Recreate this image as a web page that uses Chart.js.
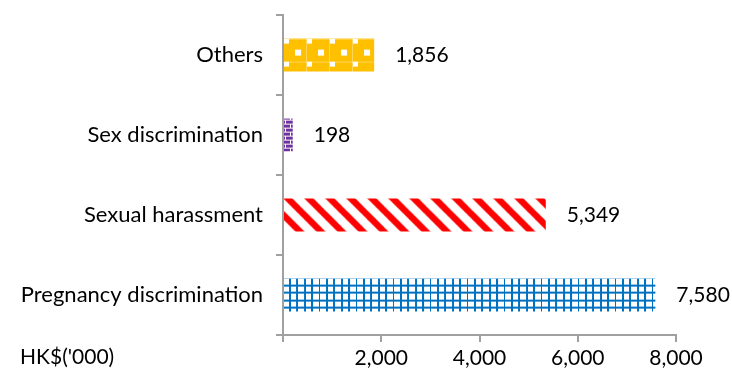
<!DOCTYPE html>
<html>
<head>
<meta charset="utf-8">
<script src="https://cdn.jsdelivr.net/npm/chart.js@4.4.1/dist/chart.umd.min.js"></script>
<style>
  html, body { margin: 0; padding: 0; background: #fff; }
  #wrap { width: 732px; height: 376px; }
</style>
</head>
<body>
<div id="wrap"><canvas id="chart" width="732" height="376"></canvas></div>
<script>
const categories = ['Others', 'Sex discrimination', 'Sexual harassment', 'Pregnancy discrimination'];
const amounts = [1856, 198, 5349, 7580];
const xTicks = [0, 2000, 4000, 6000, 8000];
const unitLabel = "HK$('000)";

const FONT = 'Lato, "Liberation Sans", sans-serif';
const TEXT_SIZE = 22;
const NUM_SIZE = 21;
const AXIS_GREY = '#a0a0a0';
const BAR_PCT = 0.41;

// pattern tiles, one per bar (Excel-style fills)
function tileGold() {
    const t = document.createElement('canvas');
    t.width = 23; t.height = 23;
    const g = t.getContext('2d');
    g.fillStyle = '#ffc000';
    g.fillRect(0, 0, 23, 23);
    g.fillStyle = 'rgba(255,255,255,0.35)';
    g.fillRect(0, 0, 23, 1);
    g.fillRect(0, 0, 1, 23);
    g.fillStyle = '#fff';
    g.fillRect(1, 0, 5, 5);
    g.fillRect(12, 11, 6, 6);
    return t;
}

function tilePurple() {
    const t = document.createElement('canvas');
    t.width = 10; t.height = 8;
    const g = t.getContext('2d');
    g.fillStyle = '#7030a0';
    g.fillRect(0, 0, 10, 8);
    g.fillStyle = '#fff';
    g.fillRect(0, 1, 10, 1);
    g.fillRect(0, 5, 10, 1);
    g.fillRect(2, 1, 1, 4);
    g.fillRect(7, 5, 1, 4);
    g.fillRect(7, 0, 1, 1);
    return t;
}

function tileRed() {
    const s = 21;
    const t = document.createElement('canvas');
    t.width = s; t.height = s;
    const g = t.getContext('2d');
    g.fillStyle = '#fff';
    g.fillRect(0, 0, s, s);
    g.strokeStyle = '#ff0000';
    g.lineWidth = 6.5;
    for (let k = -2; k <= 2; k++) {
        const x0 = 5 + k * s;
        g.beginPath();
        g.moveTo(x0 - 4, -4);
        g.lineTo(x0 + s + 4, s + 4);
        g.stroke();
    }
    return t;
}

function tileBlue() {
    const s = 37;
    const t = document.createElement('canvas');
    t.width = s; t.height = s;
    const g = t.getContext('2d');
    g.fillStyle = '#fff';
    g.fillRect(0, 0, s, s);
    g.fillStyle = '#0070c0';
    for (let i = 0; i < 5; i++) {
        const p = (Math.round(i * 7.4) + 6) % s;
        g.fillRect(p, 0, 2, s);
        g.fillRect(0, p, s, 2);
    }
    return t;
}

const tiles = [tileGold(), tilePurple(), tileRed(), tileBlue()];
const solids = ['#ffc000', '#7030a0', '#ff0000', '#0070c0'];

function barFill(c) {
    const chart = c.chart;
    const ys = chart.scales.y;
    const area = chart.chartArea;
    if (!ys || !area) return solids[c.dataIndex];
    const band = (ys.bottom - ys.top) / categories.length;
    const top = ys.getPixelForValue(c.dataIndex) - band * BAR_PCT / 2;
    const pat = chart.ctx.createPattern(tiles[c.dataIndex], 'repeat');
    pat.setTransform(new DOMMatrix([1, 0, 0, 1, area.left, top]));
    return pat;
}

const valueLabels = {
    id: 'valueLabels',
    afterDatasetsDraw(chart) {
        const ctx = chart.ctx;
        const meta = chart.getDatasetMeta(0);
        ctx.save();
        ctx.font = NUM_SIZE + 'px ' + FONT;
        ctx.fillStyle = '#000';
        ctx.textAlign = 'left';
        ctx.textBaseline = 'middle';
        meta.data.forEach((bar, i) => {
            ctx.fillText(amounts[i].toLocaleString('en-US'), bar.x + 21, bar.y);
        });
        ctx.restore();
    }
};

const unitText = {
    id: 'unitText',
    afterDraw(chart) {
        const ctx = chart.ctx;
        const xs = chart.scales.x;
        ctx.save();
        ctx.font = NUM_SIZE + 'px ' + FONT;
        ctx.fillStyle = '#000';
        ctx.textAlign = 'left';
        ctx.textBaseline = 'middle';
        ctx.fillText(unitLabel, 20, xs.top + 22);
        ctx.restore();
    }
};

new Chart(document.getElementById('chart'), {
    type: 'bar',
    data: {
        labels: categories,
        datasets: [{
            data: amounts,
            backgroundColor: barFill,
            borderWidth: 0,
            barPercentage: BAR_PCT,
            categoryPercentage: 1
        }]
    },
    options: {
        indexAxis: 'y',
        responsive: false,
        animation: false,
        layout: { padding: { top: 15, right: 56, left: 0, bottom: 0 } },
        plugins: {
            legend: { display: false },
            tooltip: { enabled: false }
        },
        scales: {
            x: {
                min: xTicks[0],
                max: xTicks[xTicks.length - 1],
                afterBuildTicks: s => { s.ticks = xTicks.map(v => ({ value: v })); },
                afterFit: s => { s.height = 41; s.paddingLeft = 0; s.paddingRight = 0; },
                grid: { drawOnChartArea: false, color: AXIS_GREY, lineWidth: 2, tickLength: 7 },
                border: { color: AXIS_GREY, width: 2 },
                ticks: {
                    color: '#000',
                    padding: 4,
                    maxRotation: 0,
                    font: { family: FONT, size: NUM_SIZE },
                    callback: v => v === 0 ? '' : v.toLocaleString('en-US')
                }
            },
            y: {
                afterFit: s => { s.width = 283; s.paddingTop = 0; s.paddingBottom = 0; },
                grid: { offset: true, drawOnChartArea: false, color: AXIS_GREY, lineWidth: 2, tickLength: 7 },
                border: { color: AXIS_GREY, width: 2 },
                ticks: {
                    color: '#000',
                    padding: 13,
                    font: { family: FONT, size: TEXT_SIZE }
                }
            }
        }
    },
    plugins: [valueLabels, unitText]
});
</script>
</body>
</html>
